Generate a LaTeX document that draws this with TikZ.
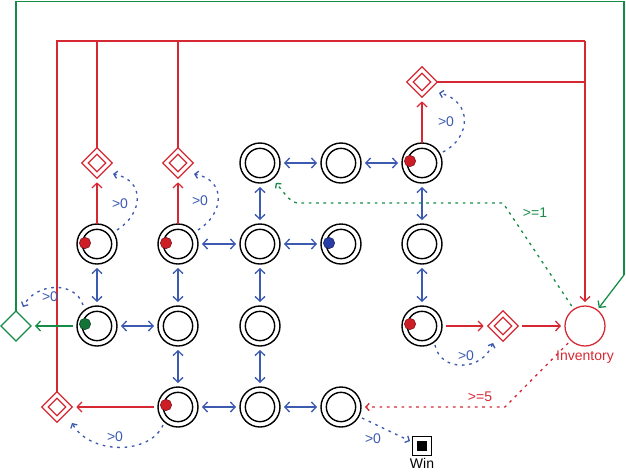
\documentclass[tikz,border=0pt]{standalone}
\usepackage{fontspec}
\setmainfont{Liberation Sans}
\usetikzlibrary{arrows.meta,shapes.geometric,calc}
\definecolor{myred}{RGB}{214,40,50}
\definecolor{myblue}{RGB}{60,90,175}
\definecolor{mygreen}{RGB}{20,140,70}
\definecolor{dotred}{RGB}{205,30,40}
\definecolor{dotredb}{RGB}{120,15,20}
\definecolor{dotblue}{RGB}{40,60,165}
\definecolor{dotblueb}{RGB}{20,30,100}
\definecolor{dotgreen}{RGB}{20,115,55}
\definecolor{dotgreenb}{RGB}{10,65,30}
\begin{document}
\begin{tikzpicture}[x=0.75pt,y=-0.75pt,
  font=\fontsize{10.5pt}{12pt}\selectfont,
  place/.style={circle, draw=black, line width=1.05pt, minimum size=30pt, inner sep=0pt, outer sep=0pt,
    path picture={\draw[line width=1.05pt] (path picture bounding box.center) circle (11pt);}},
  gate/.style={diamond, aspect=1, draw=myred, line width=0.95pt, minimum width=23pt, minimum height=23pt, inner sep=0pt, outer sep=0pt,
    path picture={\draw[myred, line width=0.95pt] ($(path picture bounding box.center)+(0pt,6.5pt)$) -- ++(6.5pt,-6.5pt) -- ++(-6.5pt,-6.5pt) -- ++(-6.5pt,6.5pt) -- cycle;}},
  ggate/.style={diamond, aspect=1, draw=mygreen, line width=0.95pt, minimum width=22.5pt, minimum height=22.5pt, inner sep=0pt, outer sep=0pt},
  pool/.style={circle, draw=myred, line width=0.95pt, minimum size=30pt, inner sep=0pt, outer sep=0pt},
  endnode/.style={rectangle, draw=black, line width=1pt, minimum size=14pt, inner sep=0pt,
    path picture={\fill[black] ($(path picture bounding box.center)+(-3.8pt,-3.8pt)$) rectangle ++(7.6pt,7.6pt);}},
  tokr/.style={circle, fill=dotred, draw=dotredb, line width=0.4pt, minimum size=8.5pt, inner sep=0pt},
  tokb/.style={circle, fill=dotblue, draw=dotblueb, line width=0.4pt, minimum size=8.5pt, inner sep=0pt},
  tokg/.style={circle, fill=dotgreen, draw=dotgreenb, line width=0.4pt, minimum size=8.5pt, inner sep=0pt},
  bidir/.style={draw=myblue, line width=1pt, {Straight Barb[length=3.5pt,width=7.5pt]}-{Straight Barb[length=3.5pt,width=7.5pt]}, shorten <=3pt, shorten >=3pt},
  rflow/.style={draw=myred, line width=0.95pt, -{Straight Barb[length=3.5pt,width=7.5pt]}, shorten >=3pt},
  rline/.style={draw=myred, line width=0.95pt},
  gflow/.style={draw=mygreen, line width=0.95pt, -{Straight Barb[length=3.5pt,width=7.5pt]}, shorten >=3pt},
  gline/.style={draw=mygreen, line width=0.95pt},
  bstate/.style={draw=myblue, line width=1pt, dash pattern=on 2pt off 3.5pt, -{Straight Barb[length=2.5pt,width=5.5pt]}},
  gstate/.style={draw=mygreen, line width=1pt, dash pattern=on 2pt off 3.5pt, -{Straight Barb[length=2.5pt,width=5.5pt]}, shorten <=3pt, shorten >=4pt},
  rstate/.style={draw=myred, line width=1pt, dash pattern=on 2pt off 3.5pt, -{Straight Barb[length=2.5pt,width=5.5pt]}, shorten <=3pt, shorten >=3pt},
  blab/.style={text=myblue, inner sep=0pt},
  glab/.style={text=mygreen, inner sep=0pt},
  rlab/.style={text=myred, inner sep=0pt}
]
\useasboundingbox (0,0) rectangle (626,472);

% places
\node[place] (n13) at (260,163) {};
\node[place] (n14) at (341,163) {};
\node[place] (n15) at (422,163) {};
\node[place] (n21) at (97,244) {};
\node[place] (n22) at (178,244) {};
\node[place] (n23) at (260,244) {};
\node[place] (n24) at (341,244) {};
\node[place] (n25) at (422,244) {};
\node[place] (n31) at (97,326) {};
\node[place] (n32) at (178,326) {};
\node[place] (n33) at (260,326) {};
\node[place] (n35) at (422,326) {};
\node[place] (n42) at (178,407) {};
\node[place] (n43) at (260,407) {};
\node[place] (n44) at (341,407) {};

% tokens
\node[tokr] (t21) at (85,243) {};
\node[tokr] (t22) at (166,243) {};
\node[tokb] (t24) at (329,243) {};
\node[tokr] (t15) at (410,161) {};
\node[tokg] (t31) at (85,324) {};
\node[tokr] (t35) at (410,324) {};
\node[tokr] (t42) at (166,405) {};

% gates
\node[gate] (g21) at (97,163) {};
\node[gate] (g22) at (178,163) {};
\node[gate] (g15) at (422,82) {};
\node[gate] (g35) at (503,326) {};
\node[gate] (g42) at (57,407) {};
\node[ggate] (gg) at (16,326) {};

% pool and end
\node[pool] (inv) at (585,326) {};
\node[rlab] (invl) at (585,357) {Inventory};
\node[endnode] (win) at (422,446) {};
\node[inner sep=0pt] (winl) at (422,463.5) {Win};

% blue two-way connections
\draw[bidir] (n13) -- (n14);
\draw[bidir] (n14) -- (n15);
\draw[bidir] (n13) -- (n23);
\draw[bidir] (n15) -- (n25);
\draw[bidir] (n22) -- (n23);
\draw[bidir] (n23) -- (n24);
\draw[bidir] (n21) -- (n31);
\draw[bidir] (n22) -- (n32);
\draw[bidir] (n23) -- (n33);
\draw[bidir] (n25) -- (n35);
\draw[bidir] (n31) -- (n32);
\draw[bidir] (n32) -- (n42);
\draw[bidir] (n33) -- (n43);
\draw[bidir] (n42) -- (n43);
\draw[bidir] (n43) -- (n44);

% red flows
\draw[rflow] (n21) -- (g21);
\draw[rflow] (n22) -- (g22);
\draw[rflow] (n15) -- (g15);
\draw[rflow, shorten <=3pt] (n35) -- (g35);
\draw[rflow, shorten <=3pt] (g35) -- (inv);
\draw[rflow, shorten <=3pt] (n42) -- (g42);

% red frame
\coordinate (rtl) at (57,41);
\coordinate (rtr) at (585,41);
\draw[rline] (g42.north) -- (rtl) -- (rtr);
\draw[rflow] (rtr) -- (inv);
\draw[rline] (g21.north) -- (g21.north |- rtl);
\draw[rline] (g22.north) -- (g22.north |- rtl);
\draw[rline] (g15.east) -- (g15.east -| rtr);

% green flow and frame
\draw[gflow, shorten <=3pt] (n31) -- (gg);
\coordinate (gtl) at (16,1.5);
\coordinate (gtr) at (624,1.5);
\coordinate (gbd) at (624,275);
\draw[gline] (gg.north) -- (gtl) -- (gtr) -- (gbd);
\draw[gflow, shorten >=2pt] (gbd) -- (inv);

% state connections
\draw[bstate] ($(n21)+(20,-14)$) .. controls +(26,-16) and +(33,6) .. ($(g21)+(16,11)$);
\draw[bstate] ($(n22)+(20,-14)$) .. controls +(26,-16) and +(33,6) .. ($(g22)+(16,11)$);
\draw[bstate] ($(n15)+(21,-11)$) .. controls +(28,-14) and +(34,8) .. ($(g15)+(17,11)$);
\draw[bstate] ($(n31)+(-14,-21)$) .. controls +(-8,-25) and +(12,-24) .. ($(gg)+(7,-19)$);
\draw[bstate] ($(n42)+(-15,18)$) .. controls +(-13,30) and +(18,32) .. ($(g42)+(15,16)$);
\draw[bstate] ($(n35)+(13,19)$) .. controls +(5,27) and +(-11,29) .. ($(g35)+(-10,17)$);
\draw[bstate] ($(n44)+(21,11)$) -- ($(win)+(-12,-5)$);

\node[blab] (l1) at (120,204) {>0};
\node[blab] (l2) at (200,201) {>0};
\node[blab] (l3) at (446,122) {>0};
\node[blab] (l4) at (50,297) {>0};
\node[blab] (l5) at (115,437) {>0};
\node[blab] (l6) at (466,356) {>0};
\node[blab] (l7) at (373,439) {>0};

% green activator
\coordinate (ga1) at (503,203);
\coordinate (ga2) at (303,203);
\coordinate (ga3) at (292,203);
\draw[gstate] (inv) -- (ga1) -- (ga2) .. controls (ga3) .. (n13);
\node[glab] (l8) at (535,213) {>=1};

% red activator
\coordinate (ra1) at (505,407);
\draw[rstate] (inv) -- (ra1) -- (n44);
\node[rlab] (l9) at (480,397) {>=5};

\end{tikzpicture}
\end{document}
